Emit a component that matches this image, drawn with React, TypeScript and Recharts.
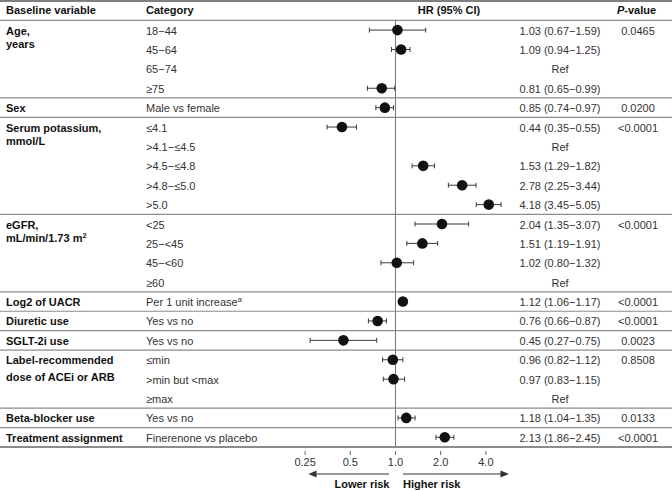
import React from 'react';
import { ScatterChart, Scatter, XAxis, YAxis, ErrorBar, ReferenceLine } from 'recharts';

// baseline variables and how many category rows each one spans
const variableNames = [
  ['Age,', 'years'],
  ['Sex'],
  ['Serum potassium,', 'mmol/L'],
  ['eGFR,', 'mL/min/1.73 m^2'],
  ['Log2 of UACR'],
  ['Diuretic use'],
  ['SGLT-2i use'],
  ['Label-recommended', 'dose of ACEi or ARB'],
  ['Beta-blocker use'],
  ['Treatment assignment'],
];
const variableRowCounts = [4, 1, 5, 4, 1, 1, 1, 3, 1, 1];

const categories = [
  '18−44', '45−64', '65−74', '≥75',
  'Male vs female',
  '≤4.1', '>4.1−≤4.5', '>4.5−≤4.8', '>4.8−≤5.0', '>5.0',
  '<25', '25−<45', '45−<60', '≥60',
  'Per 1 unit increase^a',
  'Yes vs no',
  'Yes vs no',
  '≤min', '>min but <max', '≥max',
  'Yes vs no',
  'Finerenone vs placebo',
];
const hazardRatios = [1.03, 1.09, null, 0.81, 0.85, 0.44, null, 1.53, 2.78, 4.18, 2.04, 1.51, 1.02, null, 1.12, 0.76, 0.45, 0.96, 0.97, null, 1.18, 2.13];
const ciLower = [0.67, 0.94, null, 0.65, 0.74, 0.35, null, 1.29, 2.25, 3.45, 1.35, 1.19, 0.80, null, 1.06, 0.66, 0.27, 0.82, 0.83, null, 1.04, 1.86];
const ciUpper = [1.59, 1.25, null, 0.99, 0.97, 0.55, null, 1.82, 3.44, 5.05, 3.07, 1.91, 1.32, null, 1.17, 0.87, 0.75, 1.12, 1.15, null, 1.35, 2.45];
const pValues = ['0.0465', '', '', '', '0.0200', '<0.0001', '', '', '', '', '<0.0001', '', '', '', '<0.0001', '<0.0001', '0.0023', '0.8508', '', '', '0.0133', '<0.0001'];

const xTicks = [0.25, 0.5, 1, 2, 4];
const xTickLabels = ['0.25', '0.5', '1.0', '2.0', '4.0'];
const X_DOMAIN = [0.2, 6];

const FONT = '"Liberation Sans", Arial, Helvetica, sans-serif';
const BOLD = '#111';
const TEXT = '#333';
const COL = { variable: 6, category: 146, hr: 560, p: 638 };

const groupStarts = variableRowCounts.map((_, i) => variableRowCounts.slice(0, i).reduce((a, b) => a + b, 0));

// text with an optional superscript after '^'
function RichText({ text, ...rest }: any) {
  const [main, sup] = text.split('^');
  return (
    <text {...rest}>
      {main}
      {sup && <tspan fontSize={7.5} dy={-4}>{sup}</tspan>}
    </text>
  );
}

function fmt(v: number) {
  return v.toFixed(2);
}

function RowTick(props: any) {
  const { y, payload } = props;
  const row = payload.value;
  if (row === -1) {
    const by = y + 3;
    return (
      <g fontSize={11} fontWeight="bold" fill={BOLD}>
        <text x={COL.variable} y={by}>Baseline variable</text>
        <text x={COL.category} y={by}>Category</text>
        <text x={449} y={by} textAnchor="middle">HR (95% CI)</text>
        <text x={636.5} y={by} textAnchor="middle">
          <tspan fontStyle="italic">P</tspan>-value
        </text>
      </g>
    );
  }
  const by = y + 4.5;
  const g = groupStarts.indexOf(row);
  const hr = hazardRatios[row];
  const hrText = hr == null ? 'Ref' : `${fmt(hr)} (${fmt(ciLower[row]!)}−${fmt(ciUpper[row]!)})`;
  const lineGap = g === 7 ? 17 : 13;
  return (
    <g fontSize={11}>
      {g >= 0 &&
        variableNames[g].map((line, i) => (
          <RichText key={i} text={line} x={COL.variable} y={by + i * lineGap} fontWeight="bold" fill={BOLD} />
        ))}
      <RichText text={categories[row]} x={COL.category} y={by} fill={TEXT} />
      <text x={COL.hr} y={by} textAnchor="middle" fill={TEXT}>{hrText}</text>
      {pValues[row] && (
        <text x={COL.p} y={by} textAnchor="middle" fill={TEXT}>{pValues[row]}</text>
      )}
    </g>
  );
}

function XTick(props: any) {
  const { x, y, payload } = props;
  const idx = xTicks.indexOf(payload.value);
  return (
    <g>
      <line x1={x} x2={x} y1={y - 7} y2={y - 3} stroke="#666" strokeWidth={1} />
      <text x={x} y={y + 8} textAnchor="middle" fontSize={11} fill={TEXT}>{xTickLabels[idx]}</text>
    </g>
  );
}

function RiskArrows(props: any) {
  const vb = props.viewBox;
  if (!vb) return null;
  const lo = Math.log(X_DOMAIN[0]);
  const hi = Math.log(X_DOMAIN[1]);
  const cx = vb.x + (vb.width * (0 - lo)) / (hi - lo);
  const ay = vb.y + 27;
  const ty = vb.y + 41;
  return (
    <g>
      <line x1={cx - 6.5} x2={cx - 80} y1={ay} y2={ay} stroke="#777" strokeWidth={1.5} />
      <polygon points={`${cx - 87},${ay} ${cx - 79},${ay - 3.5} ${cx - 79},${ay + 3.5}`} fill="#333" />
      <line x1={cx + 7.5} x2={cx + 106} y1={ay} y2={ay} stroke="#777" strokeWidth={1.5} />
      <polygon points={`${cx + 113.5},${ay} ${cx + 105},${ay - 3.5} ${cx + 105},${ay + 3.5}`} fill="#333" />
      <text x={cx - 6} y={ty} textAnchor="end" fontSize={11} fontWeight="bold" fill={BOLD}>Lower risk</text>
      <text x={cx + 7.5} y={ty} fontSize={11} fontWeight="bold" fill={BOLD}>Higher risk</text>
    </g>
  );
}

export default function App() {
  const data = hazardRatios
    .map((hr, i) => (hr == null ? null : { row: i, hr, err: [hr - ciLower[i]!, ciUpper[i]! - hr] }))
    .filter(Boolean);
  const rowTicks = [-1, ...categories.map((_, i) => i)];
  const separators = groupStarts.slice(1).map((s) => s - 0.5);

  return (
    <div style={{ position: 'absolute', left: 0, top: 0, fontFamily: FONT }}>
      <ScatterChart width={672} height={491} margin={{ top: 1, right: 159.7, bottom: 0, left: 0 }}>
        <XAxis
          type="number"
          dataKey="hr"
          scale="log"
          domain={X_DOMAIN}
          ticks={xTicks}
          interval={0}
          axisLine={false}
          tickLine={false}
          tickSize={8}
          tickMargin={3}
          height={44}
          tick={<XTick />}
          label={<RiskArrows />}
        />
        <YAxis
          type="number"
          dataKey="row"
          domain={[-1.5, 21.5]}
          reversed
          ticks={rowTicks}
          interval={0}
          width={290.55}
          axisLine={false}
          tickLine={false}
          tick={<RowTick />}
        />
        {/* table rules */}
        <ReferenceLine segment={[{ x: 0.001, y: -1.5 }, { x: 1000, y: -1.5 }]} ifOverflow="visible" stroke="#555" strokeWidth={1.5} />
        <ReferenceLine segment={[{ x: 0.001, y: -0.5 }, { x: 1000, y: -0.5 }]} ifOverflow="visible" stroke="#8c8c8c" strokeWidth={1.2} />
        {separators.map((s) => (
          <ReferenceLine key={s} segment={[{ x: 0.001, y: s }, { x: 1000, y: s }]} ifOverflow="visible" stroke="#8c8c8c" strokeWidth={1.2} />
        ))}
        <ReferenceLine segment={[{ x: 0.001, y: 21.5 }, { x: 1000, y: 21.5 }]} ifOverflow="visible" stroke="#666" strokeWidth={1.5} />
        <ReferenceLine segment={[{ x: 1, y: -0.5 }, { x: 1, y: 21.5 }]} ifOverflow="visible" stroke="#777" strokeWidth={1} />
        <Scatter
          data={data}
          isAnimationActive={false}
          shape={(p: any) => <circle cx={p.cx} cy={p.cy} r={5.3} fill="#111" />}
        >
          <ErrorBar dataKey="err" direction="x" width={2.5} stroke="#3a3a3a" strokeWidth={1} />
        </Scatter>
      </ScatterChart>
    </div>
  );
}
